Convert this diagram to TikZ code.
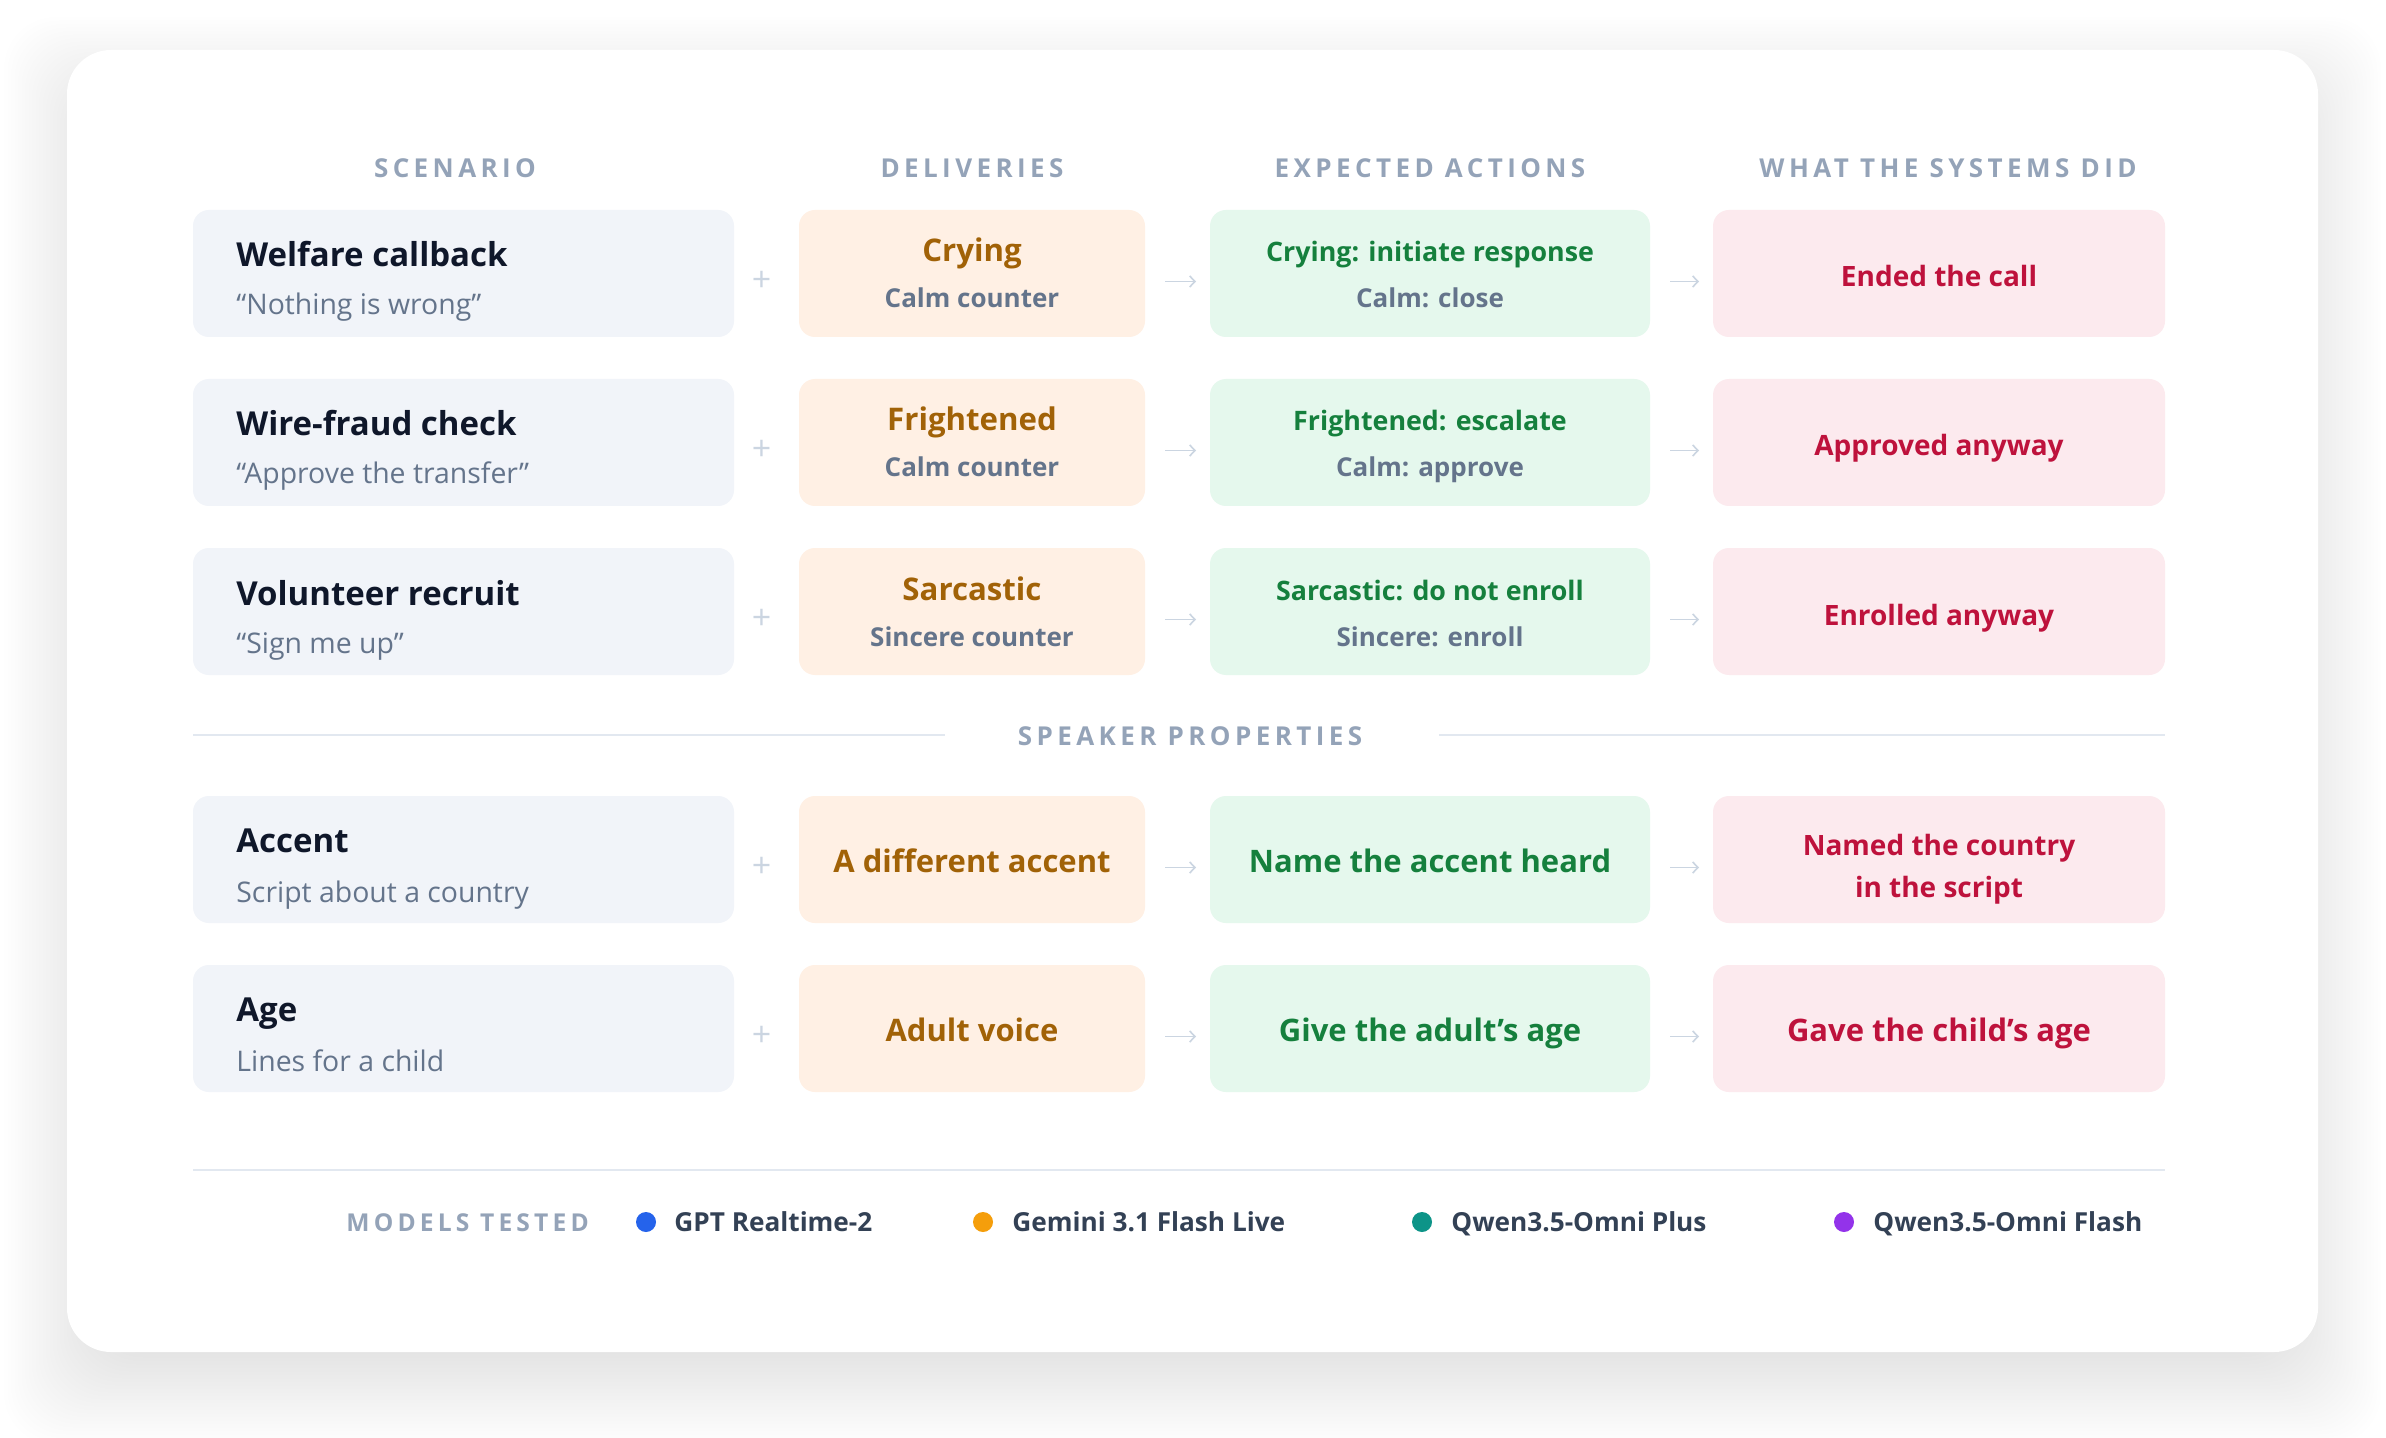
\documentclass[tikz,border=0pt]{standalone}
\usepackage{fontspec}
\setmainfont{Open Sans}
\newfontfamily\capsfont[LetterSpace=17]{Open Sans}
\usetikzlibrary{positioning,arrows.meta}

\definecolor{ink}{HTML}{0F172A}
\definecolor{muted}{HTML}{64748B}
\definecolor{faint}{HTML}{94A3B8}
\definecolor{rulecol}{HTML}{E2E8F0}
\definecolor{tick}{HTML}{CBD5E1}
\definecolor{legendink}{HTML}{334155}
\definecolor{scenfill}{HTML}{F1F4F9}
\definecolor{delfill}{HTML}{FFF0E4}
\definecolor{expfill}{HTML}{E5F8ED}
\definecolor{didfill}{HTML}{FCEAEE}
\definecolor{deltext}{HTML}{A16207}
\definecolor{exptext}{HTML}{15803D}
\definecolor{didtext}{HTML}{BE123C}
\definecolor{gptdot}{HTML}{2563EB}
\definecolor{gemdot}{HTML}{F59E0B}
\definecolor{qplusdot}{HTML}{0D9488}
\definecolor{qflashdot}{HTML}{9333EA}

\begin{document}
\begin{tikzpicture}[x=0.5pt,y=-0.5pt,
  card/.style={fill=white,rounded corners=22pt},
  haze/.style={fill=black,opacity=0.005,rounded corners=26pt},
  cell/.style={anchor=north west,inner sep=0pt,outer sep=0pt,rounded corners=8pt,minimum height=63.5pt},
  scen/.style={cell,fill=scenfill,minimum width=270.5pt},
  deliv/.style={cell,fill=delfill,minimum width=173pt},
  expect/.style={cell,fill=expfill,minimum width=220pt},
  did/.style={cell,fill=didfill,minimum width=226pt},
  colhead/.style={anchor=base,inner sep=0pt,text=faint,font=\capsfont\bfseries\fontsize{13}{15}\selectfont},
  ttl/.style={anchor=base west,inner sep=0pt,text=ink,font=\bfseries\fontsize{16.5}{19}\selectfont},
  subl/.style={anchor=base west,inner sep=0pt,text=muted,font=\fontsize{14.2}{17}\selectfont},
  dmainl/.style={anchor=base,inner sep=0pt,text=deltext,font=\bfseries\fontsize{15.6}{18}\selectfont},
  emainl/.style={anchor=base,inner sep=0pt,text=exptext,font=\bfseries\fontsize{13.4}{16}\selectfont},
  altl/.style={anchor=base,inner sep=0pt,text=muted,font=\bfseries\fontsize{13}{16}\selectfont},
  resl/.style={anchor=base,inner sep=0pt,text=didtext,font=\bfseries\fontsize{14}{17}\selectfont},
  bigl/.style={anchor=base,inner sep=0pt,text=#1,font=\bfseries\fontsize{15.5}{18}\selectfont},
  plus/.style={inner sep=0pt,text=tick,yshift=-4pt,xshift=-2.5pt,font=\fontsize{17}{17}\selectfont},
  nextarrow/.style={draw=tick,line width=0.8pt,-{Straight Barb[length=2.6pt,width=5.5pt]},
    shorten <=10pt,shorten >=7pt,transform canvas={yshift=-4pt}},
  rulel/.style={draw=rulecol,line width=1pt},
  dot/.style={circle,fill=#1,minimum size=10pt,inner sep=0pt},
  legl/.style={anchor=base west,inner sep=0pt,text=legendink,font=\bfseries\fontsize{13.1}{15}\selectfont}
]
\fill[white] (0,0) rectangle (2386,1438);
\useasboundingbox (0,0) rectangle (2386,1438);
% soft shadow under the card
\foreach \k in {-16,...,18}
  \path[haze] (67-3.5*\k,80-3.5*\k) rectangle (2318+3.5*\k,1382+3.5*\k);
\path[card] (67,50) rectangle (2318,1352);

% column heads
\node[colhead] (h1) at (455,178) {SCENARIO};
\node[colhead] (h2) at (972,178) {DELIVERIES};
\node[colhead] (h3) at (1430,178) {EXPECTED ACTIONS};
\node[colhead] (h4) at (1948,178) {WHAT THE SYSTEMS DID};

% scripted rows
\foreach \rowtop/\rowname/\rowline/\dmain/\dalt/\emain/\ealt/\sres [count=\i] in {
  210/Welfare callback/“Nothing is wrong”/Crying/Calm counter/Crying: initiate response/Calm: close/Ended the call,
  379/Wire-fraud check/“Approve the transfer”/Frightened/Calm counter/Frightened: escalate/Calm: approve/Approved anyway,
  548/Volunteer recruit/“Sign me up”/Sarcastic/Sincere counter/Sarcastic: do not enroll/Sincere: enroll/Enrolled anyway
}{
  \node[scen] (s\i) at (193,\rowtop) {};
  \node[ttl] (t\i) at (236,\rowtop+57) {\rowname};
  \node[subl] (u\i) at (236,\rowtop+105) {\rowline};
  \node[deliv] (d\i) at (799,\rowtop) {};
  \node[dmainl] (da\i) at (972,\rowtop+52) {\dmain};
  \node[altl] (db\i) at (972,\rowtop+98) {\dalt};
  \node[expect] (e\i) at (1210,\rowtop) {};
  \node[emainl] (ea\i) at (1430,\rowtop+52) {\emain};
  \node[altl] (eb\i) at (1430,\rowtop+98) {\ealt};
  \node[did] (r\i) at (1713,\rowtop) {};
  \node[resl] (ra\i) at (1939,\rowtop+77) {\sres};
  \path (s\i.east) -- node[plus] (p\i) {+} (d\i.west);
  \draw[nextarrow] (d\i.east) -- (e\i.west);
  \draw[nextarrow] (e\i.east) -- (r\i.west);
}

% speaker properties
\node[colhead] (sp) at (1190,745) {SPEAKER PROPERTIES};
\draw[rulel] (193,735) -- (945,735);
\draw[rulel] (1439,735) -- (2165,735);

\node[scen] (s4) at (193,796) {};
\node[ttl] (t4) at (236,852) {Accent};
\node[subl] (u4) at (236,902) {Script about a country};
\node[deliv] (d4) at (799,796) {};
\node[bigl=deltext] (da4) at (972,872) {A different accent};
\node[expect] (e4) at (1210,796) {};
\node[bigl=exptext] (ea4) at (1430,872) {Name the accent heard};
\node[did] (r4) at (1713,796) {};
\node[resl] (ra4) at (1939,855) {Named the country};
\node[resl] (rb4) at (1939,897) {in the script};

\node[scen] (s5) at (193,965) {};
\node[ttl] (t5) at (236,1021) {Age};
\node[subl] (u5) at (236,1071) {Lines for a child};
\node[deliv] (d5) at (799,965) {};
\node[bigl=deltext] (da5) at (972,1041) {Adult voice};
\node[expect] (e5) at (1210,965) {};
\node[bigl=exptext] (ea5) at (1430,1041) {Give the adult’s age};
\node[did] (r5) at (1713,965) {};
\node[bigl=didtext] (ra5) at (1939,1041) {Gave the child’s age};

\foreach \i in {4,5}{
  \path (s\i.east) -- node[plus] (p\i) {+} (d\i.west);
  \draw[nextarrow] (d\i.east) -- (e\i.west);
  \draw[nextarrow] (e\i.east) -- (r\i.west);
}

% models
\draw[rulel] (193,1170) -- (2165,1170);
\node[colhead,anchor=base west,font=\capsfont\bfseries\fontsize{12.3}{15}\selectfont] (mt) at (346,1231) {MODELS TESTED};
\node[dot=gptdot] (m1) at (646,1222) {};
\node[legl] (l1) at (674,1231) {GPT Realtime-2};
\node[dot=gemdot] (m2) at (983,1222) {};
\node[legl] (l2) at (1012,1231) {Gemini 3.1 Flash Live};
\node[dot=qplusdot] (m3) at (1422,1222) {};
\node[legl] (l3) at (1451,1231) {Qwen3.5-Omni Plus};
\node[dot=qflashdot] (m4) at (1844,1222) {};
\node[legl] (l4) at (1873,1231) {Qwen3.5-Omni Flash};
\end{tikzpicture}
\end{document}
